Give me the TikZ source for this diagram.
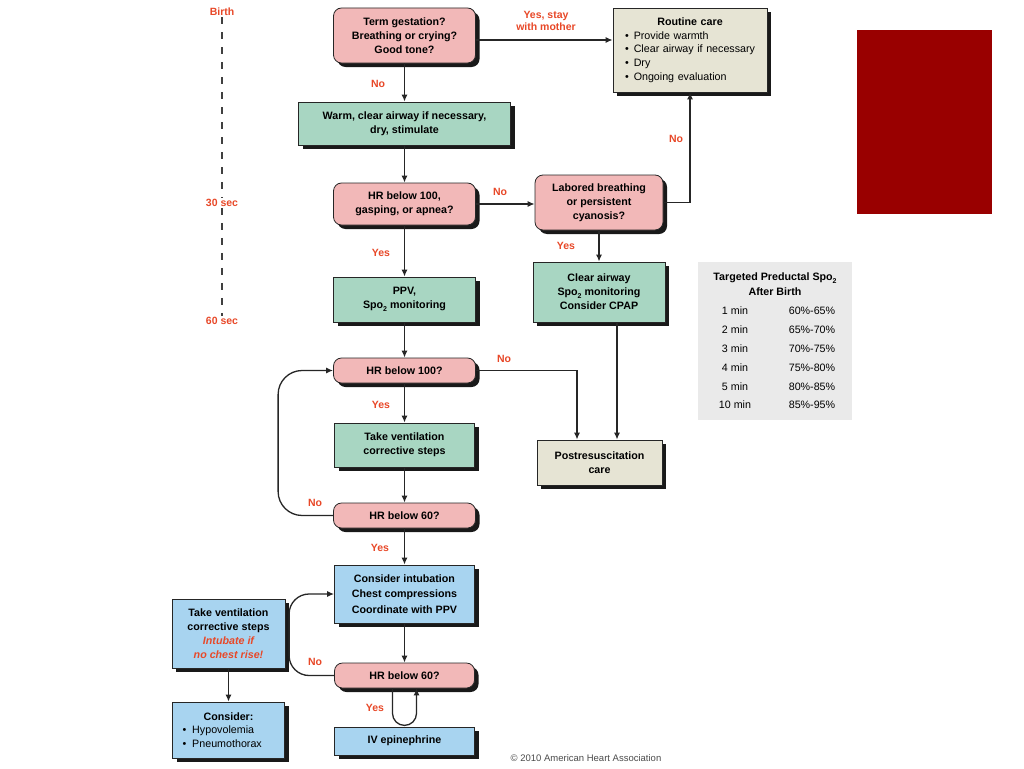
\documentclass[tikz,border=0pt]{standalone}
\usepackage{fontspec}
\setmainfont{Liberation Sans}
\usetikzlibrary{arrows.meta,shadows}
\newcommand\subtwo{\raisebox{-0.45ex}{\fontsize{7}{7}\selectfont 2}}
\definecolor{pinkc}{RGB}{242,184,184}
\definecolor{greenc}{RGB}{168,214,194}
\definecolor{bluec}{RGB}{168,212,240}
\definecolor{beigec}{RGB}{230,228,212}
\definecolor{tabgrey}{RGB}{234,234,234}
\definecolor{labred}{RGB}{232,72,40}
\definecolor{darkred}{RGB}{153,0,0}
\begin{document}
\begin{tikzpicture}[x=1pt,y=-1pt,
 box/.style={draw=black!85, line width=0.8pt, font=\fontsize{10.7}{14}\selectfont\bfseries, align=center, inner sep=2pt,
   drop shadow={shadow xshift=4pt, shadow yshift=-4pt, fill=black!90, opacity=1}},
 dec/.style={box, fill=pinkc, rounded corners=8pt},
 act/.style={box, fill=greenc},
 blu/.style={box, fill=bluec},
 bei/.style={box, fill=beigec},
 arr/.style={draw=black!85, line width=1.3pt, -{Latex[length=7pt,width=6pt]}},
 lbl/.style={text=labred, font=\fontsize{10.5}{12}\selectfont\bfseries, align=center, inner sep=1pt},
 timeline/.style={draw=black!75, line width=1.8pt, dash pattern=on 7pt off 8pt},
]
\useasboundingbox[fill=white] (0,0) rectangle (1024,768);

% red block
\node[fill=darkred, minimum width=135, minimum height=184, inner sep=0pt] (redblock) at (924.5,122) {};

% timeline
\node[lbl] (birth) at (222,12) {Birth};
\node[lbl] (t30) at (222,203) {30 sec};
\node[lbl] (t60) at (222,321) {60 sec};
\draw[timeline] (birth) -- (t30);
\draw[timeline] (t30) -- (t60);

% nodes
\node[dec, minimum width=142, minimum height=55] (term) at (404.5,35.5) {Term gestation?\\Breathing or crying?\\Good tone?};
\node[act, minimum width=212, minimum height=43] (warm) at (404.5,123.5) {Warm, clear airway if necessary,\\dry, stimulate};
\node[bei, minimum width=154, minimum height=84, text width=142, align=left, inner xsep=6pt,
  font=\fontsize{10.7}{13.7}\selectfont] (routine) at (690,50)
  {{\centering\bfseries Routine care\par}
   \hspace*{6pt}\textbullet\hspace{5pt}Provide warmth\\
   \hspace*{6pt}\textbullet\hspace{5pt}Clear airway if necessary\\
   \hspace*{6pt}\textbullet\hspace{5pt}Dry\\
   \hspace*{6pt}\textbullet\hspace{5pt}Ongoing evaluation};
\node[dec, minimum width=142, minimum height=42] (hr1) at (404.5,204) {HR below 100,\\gasping, or apnea?};
\node[dec, minimum width=128, minimum height=55] (labored) at (599,202.5) {Labored breathing\\or persistent\\cyanosis?};
\node[act, minimum width=142, minimum height=45] (ppv) at (404.5,299.5) {PPV,\\Spo\subtwo\ monitoring};
\node[act, minimum width=132, minimum height=60] (clear) at (599,292) {Clear airway\\Spo\subtwo\ monitoring\\Consider CPAP};
\node[fill=tabgrey, minimum width=152, minimum height=158, inner sep=0pt, align=center,
  font=\fontsize{10.7}{15}\selectfont] (spo) at (775,341)
  {\textbf{Targeted Preductal Spo\subtwo}\\\textbf{After Birth}\\[4pt]
   \makebox[74pt]{1 min}\makebox[80pt]{60\%-65\%}\\[3.8pt]
   \makebox[74pt]{2 min}\makebox[80pt]{65\%-70\%}\\[3.8pt]
   \makebox[74pt]{3 min}\makebox[80pt]{70\%-75\%}\\[3.8pt]
   \makebox[74pt]{4 min}\makebox[80pt]{75\%-80\%}\\[3.8pt]
   \makebox[74pt]{5 min}\makebox[80pt]{80\%-85\%}\\[3.8pt]
   \makebox[74pt]{10 min}\makebox[80pt]{85\%-95\%}};
\node[dec, minimum width=142, minimum height=25] (hr100) at (404.5,370.5) {HR below 100?};
\node[act, minimum width=140, minimum height=44] (tv) at (404.5,445) {Take ventilation\\corrective steps};
\node[dec, minimum width=142, minimum height=25] (hr60) at (404.5,515.5) {HR below 60?};
\node[bei, minimum width=125, minimum height=45] (post) at (599.5,462.5) {Postresuscitation\\care};
\node[blu, minimum width=140, minimum height=58, font=\fontsize{10.7}{15.5}\selectfont\bfseries] (ci) at (404.5,594) {Consider intubation\\Chest compressions\\Coordinate with PPV};
\node[dec, minimum width=140, minimum height=25] (hr60b) at (404.5,675.5) {HR below 60?};
\node[blu, minimum width=140, minimum height=28] (iv) at (404.5,741) {IV epinephrine};
\node[blu, minimum width=113, minimum height=69] (tvb) at (228.5,633.5) {Take ventilation\\corrective steps\\{\color{labred}\itshape Intubate if}\\{\color{labred}\itshape no chest rise!}};
\node[blu, minimum width=112, minimum height=56, text width=100, align=left, inner xsep=6pt,
  font=\fontsize{10.7}{13.7}\selectfont] (cons) at (228.5,730)
  {{\centering\bfseries Consider:\par}
   \hspace*{4pt}\textbullet\hspace{6pt}Hypovolemia\\
   \hspace*{4pt}\textbullet\hspace{6pt}Pneumothorax};

% copyright
\node[font=\fontsize{9.5}{11}\selectfont, text=black!70, inner sep=0pt] (copy) at (586,758) {© 2010 American Heart Association};

% labels
\node[lbl] (l1) at (378,84) {No};
\node[lbl] (l2) at (546,21) {Yes, stay\\with mother};
\node[lbl] (l3) at (500,192) {No};
\node[lbl] (l4) at (676,139) {No};
\node[lbl] (l5) at (381,253) {Yes};
\node[lbl] (l6) at (566,246) {Yes};
\node[lbl] (l7) at (504,359) {No};
\node[lbl] (l8) at (381,405) {Yes};
\node[lbl] (l9) at (315,503) {No};
\node[lbl] (l10) at (380,548) {Yes};
\node[lbl] (l11) at (315,662) {No};
\node[lbl] (l12) at (375,708) {Yes};

% connectors
\draw[arr] (term) -- (warm);
\draw[arr] ([yshift=-4.5pt]term.east) -- ([yshift=-4.5pt]term.east -| routine.west);
\draw[arr] (warm) -- (hr1);
\draw[arr] (hr1.east) -- (hr1.east -| labored.west);
\draw[arr] (labored.east) -| (routine.south);
\draw[arr] (hr1) -- (ppv);
\draw[arr] (labored) -- (clear);
\draw[arr] (ppv) -- (hr100);
\draw[arr] (hr100.east) -| ([xshift=-22.5pt]post.north);
\draw[arr] ([xshift=18pt]clear.south) -- ([xshift=18pt]clear.south |- post.north);
\draw[arr] (hr100) -- (tv);
\draw[arr] (tv) -- (hr60);
\draw[arr, rounded corners=24pt] (hr60.west) -| ([xshift=-55pt]hr100.west) -- (hr100.west);
\draw[arr] (hr60) -- (ci);
\draw[arr] (ci) -- (hr60b);
\draw[arr, rounded corners=20pt] (hr60b.west) -| ([xshift=-45pt]ci.west) -- (ci.west);
\draw[arr, rounded corners=12pt] ([xshift=-12pt]hr60b.south) -- ++(0,37) -| ([xshift=12pt]hr60b.south);
\draw[arr] (tvb.south) -- (tvb.south |- cons.north);
\end{tikzpicture}
\end{document}
